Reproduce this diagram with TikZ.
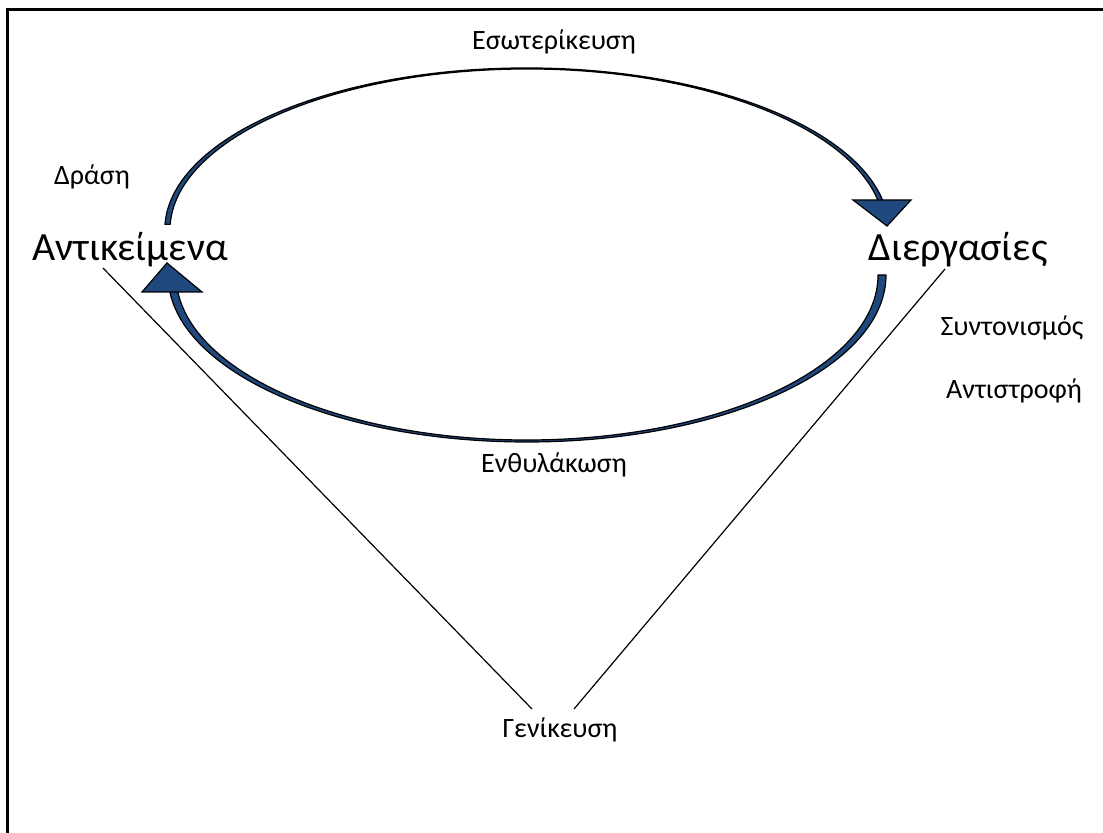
\documentclass[tikz,border=0pt]{standalone}
\usepackage{fontspec}
\setmainfont{Carlito}
\usetikzlibrary{calc}
\definecolor{arrowblue}{RGB}{31,73,125}
\begin{document}
\begin{tikzpicture}[x=0.75pt,y=0.75pt,
  small/.style={font=\fontsize{21}{25}\selectfont, inner sep=0pt},
  big/.style={font=\fontsize{30}{36}\selectfont, inner sep=0pt},
  band/.style={fill=arrowblue, draw=black, line width=0.9pt, line join=round},
  head/.style={fill=arrowblue, draw=black, line width=0.9pt, line join=miter},
  link/.style={draw=black, line width=0.9pt}]
\useasboundingbox (0,0) rectangle (1103,832);

% frame (top and left edges)
\draw[line width=2.25pt] (7,-5) -- (7,822) -- (1110,822);

% labels
\node[big]   (obj)  at (130,582) {Αντικείμενα};
\node[big]   (proc) at (958,582) {Διεργασίες};
\node[small] (int)  at (554,790) {Εσωτερίκευση};
\node[small] (act)  at (92,655)  {Δράση};
\node[small] (enc)  at (554,367) {Ενθυλάκωση};
\node[small] (coord) at (1012,504) {Συντονισμός};
\node[small] (inv)  at (1014,441) {Αντιστροφή};
\node[small] (gen)  at (560,102) {Γενίκευση};

% upper curved arrow: objects -> processes (tapers towards the top)
\path[band] (165,607.7) arc[start angle=178, end angle=8, x radius=362, y radius=162]
  -- ($(527,602)+(8:357 and 161)$)
  arc[start angle=8, end angle=178, x radius=357, y radius=161] -- cycle;
\path[head] (853,632) -- (911,632) -- (887,606) -- cycle;

% lower curved arrow: processes -> objects
\path[band] (886,557) arc[start angle=0, end angle=-177, x radius=359, y radius=167]
  -- ($(527,557)+(-177:351 and 165)$)
  arc[start angle=-177, end angle=0, x radius=351, y radius=165] -- cycle;
\path[head] (142,540) -- (202,540) -- (167,569) -- cycle;

% generalisation lines
\draw[link] ($(obj.center)+(-27,-18)$) -- ($(gen.center)+(-28,21)$);
\draw[link] ($(proc.center)+(-13,-19)$) -- ($(gen.center)+(14,21)$);
\end{tikzpicture}
\end{document}
